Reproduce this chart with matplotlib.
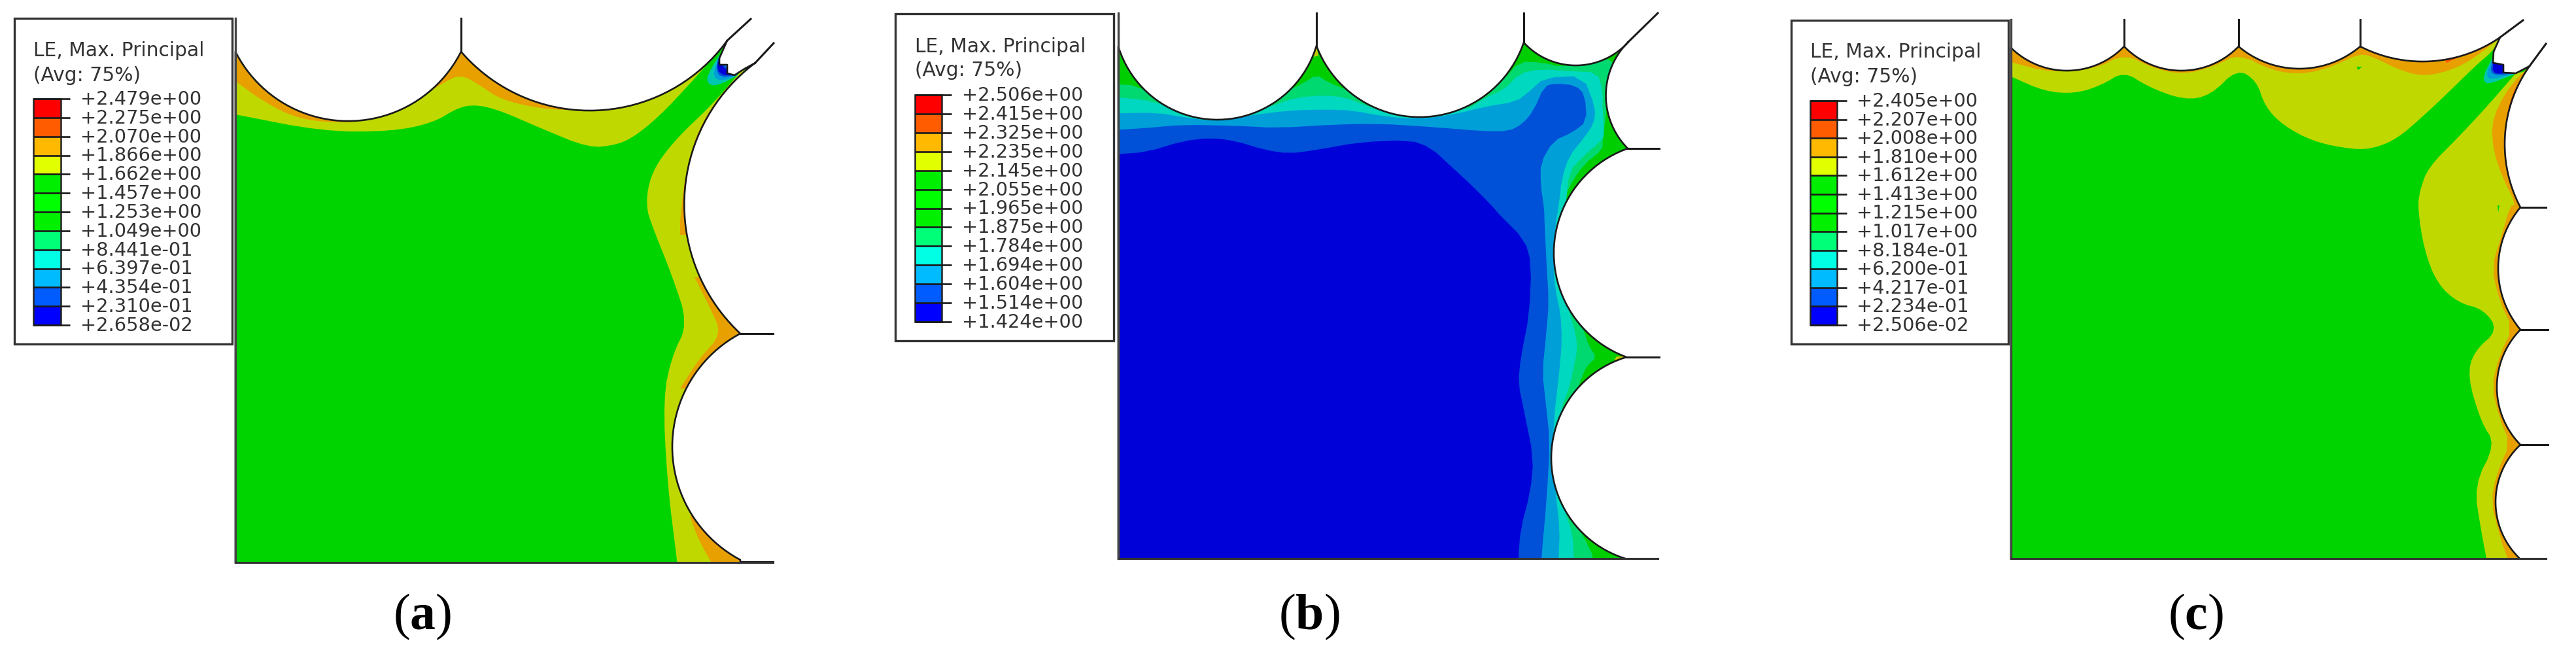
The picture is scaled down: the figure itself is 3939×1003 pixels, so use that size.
import matplotlib
matplotlib.use("Agg")
import numpy as np
import matplotlib.pyplot as plt
from matplotlib.patches import Polygon, Rectangle

plt.rcParams["font.family"] = ["DejaVu Sans"]
plt.rcParams["mathtext.fontset"] = "custom"
plt.rcParams["mathtext.rm"] = "Liberation Serif"
plt.rcParams["mathtext.bf"] = "Liberation Serif:bold"

W, H = 3939, 1004

LEGEND_TITLE = ["LE, Max. Principal", "(Avg: 75%)"]
LABELS_A = ["+2.479e+00", "+2.275e+00", "+2.070e+00", "+1.866e+00", "+1.662e+00", "+1.457e+00", "+1.253e+00",
            "+1.049e+00", "+8.441e-01", "+6.397e-01", "+4.354e-01", "+2.310e-01", "+2.658e-02"]
LABELS_B = ["+2.506e+00", "+2.415e+00", "+2.325e+00", "+2.235e+00", "+2.145e+00", "+2.055e+00", "+1.965e+00",
            "+1.875e+00", "+1.784e+00", "+1.694e+00", "+1.604e+00", "+1.514e+00", "+1.424e+00"]
LABELS_C = ["+2.405e+00", "+2.207e+00", "+2.008e+00", "+1.810e+00", "+1.612e+00", "+1.413e+00", "+1.215e+00",
            "+1.017e+00", "+8.184e-01", "+6.200e-01", "+4.217e-01", "+2.234e-01", "+2.506e-02"]
BAR_COLORS = ["#FF0000", "#FF5C00", "#FFB900", "#E2FF00", "#00EE00", "#00FF00", "#00F000",
              "#00FF78", "#00FFE4", "#00BBFF", "#005CFF", "#0000FF"]

GREEN = "#00D400"
OLIVE = "#BFD900"
ORANGE = "#E8A000"
REDDISH = "#FF5000"
B_GREEN = "#00CE00"
B_LIGHT = "#00D870"
B_TEAL = "#00D8C0"
B_SKY = "#009FD8"
B_BLUE = "#0050D8"
B_DARK = "#0000D8"

# outlines (pixels of the full picture)
A_ARCS_TOP = [((360, 80), (526, 186), (705, 80)), ((705, 80), (869, 168), (1112, 63))]
A_NOTCH = [(1100, 90), (1100, 100), (1112, 100), (1112, 113), (1123, 116), (1137, 107)]
A_ARCS_RIGHT = [((1155, 97), (1047, 333), (1132, 511)), ((1132, 511), (1028, 688), (1132, 857))]
A_SPIKES = [((705, 80), (705, 29)), ((1112, 63), (1148, 30)), ((1155, 97), (1183, 67)),
            ((1132, 511), (1182, 511)), ((1132, 860), (1182, 860))]

B_ARCS = [((1710, 72), (1860, 184), (2013, 71)), ((2013, 71), (2167, 180), (2330, 66)),
          ((2330, 66), (2407, 101), (2490, 65)), ((2490, 65), (2456, 157), (2489, 228)),
          ((2489, 228), (2376, 392), (2487, 547)), ((2487, 547), (2372, 701), (2485, 855))]
B_SPIKES = [((2013, 71), (2013, 21)), ((2330, 66), (2330, 21)), ((2490, 65), (2535, 21)),
            ((2489, 228), (2537, 228)), ((2487, 547), (2537, 547)), ((2485, 855), (2535, 855))]

C_ARCS_TOP = [((3075, 74), (3162, 109), (3248, 72)), ((3248, 72), (3336, 109), (3423, 72)),
              ((3423, 72), (3514, 106), (3609, 72)), ((3609, 72), (3700, 95), (3823, 58))]
C_NOTCH = [(3813, 80), (3812, 97), (3828, 100), (3828, 112), (3847, 113)]
C_ARCS_RIGHT = [((3868, 102), (3830, 222), (3854, 318)), ((3854, 318), (3820, 410), (3854, 505)),
                ((3854, 505), (3818, 592), (3854, 681)), ((3854, 681), (3816, 768), (3852, 854))]
C_SPIKES = [((3248, 72), (3248, 31)), ((3423, 72), (3423, 31)), ((3609, 72), (3609, 31)), ((3823, 58), (3858, 32)),
            ((3868, 102), (3893, 68)), ((3854, 318), (3893, 318)), ((3854, 505), (3896, 505)),
            ((3854, 681), (3896, 681)), ((3852, 855), (3893, 855))]

# contour edges of panel a
A_OLIVE_TOP = [(360, 176), (494, 202), (598, 202), (662, 189), (701, 165), (729, 161), (765, 170), (829, 198),
               (900, 227), (940, 223), (967, 212), (1007, 180), (1057, 127), (1100, 78), (1112, 60)]
A_OLIVE_RIGHT = [(1133, 110), (1087, 163), (1040, 207), (1007, 247), (992, 280), (988, 317), (997, 346), (1028, 423),
                 (1052, 496), (1028, 544), (1014, 608), (1020, 736), (1036, 865)]
A_ORANGE_TOP = [(360, 125), (398, 153), (446, 179), (494, 188), (558, 188), (638, 154), (680, 126), (705, 115),
                (735, 132), (765, 153), (829, 168), (900, 170), (977, 157), (1017, 143), (1047, 123), (1073, 100),
                (1103, 73), (1112, 60)]
A_ORANGE_RIGHT = [(1150, 107), (1113, 133), (1080, 177), (1060, 220), (1048, 270), (1044, 300), (1040, 340)]
A_ORANGE_CUSP = [(1062, 425), (1085, 470), (1104, 512), (1070, 548), (1040, 595)]
A_ORANGE_FOOT = [(1055, 790), (1068, 826), (1090, 865)]
A_RED_TOP = [(1060, 108), (1080, 93), (1100, 78), (1112, 60)]
A_RED_RIGHT = [(1148, 105), (1120, 135), (1095, 170), (1078, 205), (1062, 250), (1052, 290)]
A_BLOTCH = [[(1100, 85), (1088, 105), (1080, 122), (1086, 132), (1102, 130), (1128, 116)],
            [(1100, 88), (1091, 110), (1094, 122), (1108, 124), (1128, 116)],
            [(1098, 90), (1095, 108), (1102, 119), (1122, 117)],
            [(1098, 95), (1097, 108), (1106, 116), (1120, 116)]]

# contour edges of panel b, top crop then right crop
B_L2_TOP = [(18, 390), (70, 395), (150, 470), (300, 500), (450, 470), (495, 420), (540, 385), (578, 345), (610, 380),
            (670, 420), (800, 500), (1000, 500), (1050, 435), (1105, 370), (1150, 285), (1215, 290), (1270, 310),
            (1340, 290), (1420, 270), (1400, 360), (1395, 520), (1385, 640), (1385, 690), (1330, 760), (1290, 860),
            (1265, 960)]
B_L2_RIGHT = [(440, 560), (510, 690), (540, 760), (575, 797), (530, 825), (505, 870), (490, 900), (420, 1000),
              (400, 1200), (460, 1360), (510, 1420), (565, 1503), (565, 1600)]
B_L3_TOP = [(18, 450), (90, 460), (135, 480), (300, 520), (400, 515), (450, 490), (520, 450), (600, 440), (660, 450),
            (720, 490), (800, 530), (1000, 510), (1050, 455), (1110, 410), (1150, 340), (1210, 320), (1300, 330),
            (1370, 335), (1385, 420), (1385, 520), (1390, 620), (1380, 650), (1330, 720), (1290, 790), (1280, 960)]
B_L3_RIGHT = [(420, 560), (450, 640), (480, 720), (485, 770), (470, 830), (450, 900), (410, 980), (380, 1150),
              (430, 1340), (465, 1420), (470, 1503), (470, 1600)]
B_L4_TOP = [(18, 522), (130, 520), (200, 540), (290, 560), (400, 530), (500, 510), (600, 505), (680, 510), (760, 535),
            (860, 550), (960, 530), (1060, 490), (1140, 470), (1180, 420), (1220, 360), (1330, 350), (1365, 500),
            (1360, 570), (1330, 640), (1290, 720), (1270, 820), (1260, 960)]
B_L4_RIGHT = [(385, 330), (375, 480), (385, 560), (410, 650), (415, 740), (405, 830), (395, 900), (380, 1000),
              (370, 1150), (390, 1300), (405, 1400), (400, 1503), (400, 1600)]
B_L5_TOP = [(18, 598), (100, 590), (200, 575), (350, 580), (470, 590), (620, 575), (750, 570), (900, 585), (1050, 605),
            (1120, 605), (1160, 570), (1190, 510), (1220, 400), (1250, 385), (1310, 395), (1335, 440), (1340, 560),
            (1300, 610), (1245, 650), (1210, 750), (1210, 850), (1220, 960)]
B_L5_RIGHT = [(335, 320), (345, 480), (355, 600), (345, 700), (325, 850), (340, 950), (360, 1090), (345, 1300),
              (320, 1503), (320, 1600)]
B_L6_TOP = [(18, 710), (100, 700), (200, 650), (280, 635), (350, 650), (430, 690), (500, 708), (580, 690), (700, 655),
            (840, 645), (900, 680), (960, 770), (1020, 860), (1080, 960)]
B_L6_RIGHT = [(120, 290), (245, 385), (275, 470), (265, 650), (225, 800), (215, 890), (240, 980), (285, 1150),
              (270, 1270), (225, 1400), (215, 1503), (215, 1600)]
B_TIPS = [[(2009, 88), (2013, 72), (2016, 86)], [(2468, 552), (2488, 546), (2472, 546)]]

# contour edges of panel c
C_OLIVE_TOP = [(3075, 118), (3127, 141), (3174, 144), (3214, 131), (3248, 110), (3285, 134), (3340, 154), (3380, 147),
               (3421, 106), (3451, 125), (3463, 163), (3490, 192), (3538, 218), (3600, 230), (3633, 227), (3667, 212),
               (3707, 177), (3743, 143), (3787, 100), (3813, 78), (3823, 58)]
C_OLIVE_RIGHT = [(3847, 113), (3800, 167), (3757, 213), (3713, 257), (3700, 293), (3697, 320), (3707, 384), (3727, 435),
                 (3759, 464), (3798, 474), (3820, 506), (3783, 538), (3773, 576), (3794, 647), (3816, 680), (3783, 743),
                 (3794, 813), (3804, 865)]
C_ORANGE_TOP = [(3075, 96), (3135, 112), (3206, 106), (3248, 83), (3293, 106), (3340, 115), (3387, 102), (3423, 83),
                (3474, 109), (3522, 115), (3569, 102), (3609, 82), (3633, 90), (3667, 107), (3700, 117), (3733, 113),
                (3767, 100), (3800, 77), (3823, 58)]
C_ORANGE_RIGHT = [(3867, 103), (3840, 130), (3820, 163), (3810, 193), (3813, 233), (3827, 273), (3847, 313), (3838, 317),
                  (3826, 358), (3810, 410), (3822, 461), (3842, 503), (3822, 544), (3810, 592), (3822, 640), (3838, 679),
                  (3818, 724), (3809, 768), (3822, 820), (3838, 865)]
C_RED_TOP = [(3740, 97), (3773, 83), (3823, 58)]
C_RED_RIGHT = [(3867, 103), (3843, 140), (3833, 177), (3832, 195)]
C_BLOTCH = [[(3812, 88), (3797, 117), (3800, 129), (3813, 127), (3848, 113)],
            [(3811, 92), (3802, 113), (3806, 122), (3816, 121), (3848, 113)],
            [(3811, 95), (3808, 112), (3820, 116), (3845, 113)],
            [(3812, 97), (3812, 113), (3830, 114), (3829, 99)]]
C_SPECKS = [[(3603, 103), (3612, 103), (3606, 108)], [(3819, 315), (3822, 315), (3820, 326)]]


def crop(pts, x0, y0, sx, sy):
    return [(x0 + x / sx, y0 + y / sy) for x, y in pts]


def top_crop(pts):
    return crop(pts, 1700, 0, 1.845, 3)


def right_crop(pts):
    return crop(pts, 2250, 200, 3, 2.294)


def arc3(p0, pm, p1, n=48):
    """Circular arc through three points."""
    (ax_, ay), (bx, by), (cx, cy) = p0, pm, p1
    d = 2 * (ax_ * (by - cy) + bx * (cy - ay) + cx * (ay - by))
    ux = ((ax_**2 + ay**2) * (by - cy) + (bx**2 + by**2) * (cy - ay) + (cx**2 + cy**2) * (ay - by)) / d
    uy = ((ax_**2 + ay**2) * (cx - bx) + (bx**2 + by**2) * (ax_ - cx) + (cx**2 + cy**2) * (bx - ax_)) / d
    a0, am, a1 = [np.arctan2(p[1] - uy, p[0] - ux) for p in (p0, pm, p1)]
    am = a0 + (am - a0 + np.pi) % (2 * np.pi) - np.pi
    a1 = am + (a1 - am + np.pi) % (2 * np.pi) - np.pi
    r = np.hypot(ax_ - ux, ay - uy)
    tt = np.concatenate([np.linspace(a0, am, n // 2), np.linspace(am, a1, n // 2)[1:]])
    return list(zip(ux + r * np.cos(tt), uy + r * np.sin(tt)))


def smooth(pts, rounds=2):
    pts = np.array(pts, dtype=float)
    for _ in range(rounds):
        q = 0.75 * pts[:-1] + 0.25 * pts[1:]
        r = 0.25 * pts[:-1] + 0.75 * pts[1:]
        mid = np.empty((2 * len(q), 2))
        mid[0::2] = q
        mid[1::2] = r
        pts = np.vstack([pts[0], mid, pts[-1]])
    return [tuple(p) for p in pts]


def chain(arcs):
    out = []
    for a in arcs:
        out += arc3(*a)
    return out


fig = plt.figure(figsize=(W / 100, H / 100), dpi=100)
ax = fig.add_axes([0, 0, 1, 1])
ax.set_xlim(0, W)
ax.set_ylim(H, 0)
ax.axis("off")


def plate(outline, color):
    p = Polygon(outline, closed=True, fc=color, ec="none", zorder=2)
    ax.add_patch(p)
    return p


def layer(clip, edge, closing, color, zorder=3, rounds=2):
    pts = smooth(edge, rounds) + list(closing)
    p = Polygon(pts, closed=True, fc=color, ec="none", zorder=zorder)
    ax.add_patch(p)
    p.set_clip_path(clip)


def outline_lines(outline, spikes, left_x, top_y, bottom_y):
    xs, ys = zip(*outline)
    ax.plot(xs, ys, color="#1a1a1a", lw=1.9, zorder=6, solid_joinstyle="round")
    ax.plot([left_x, left_x], [top_y, bottom_y], color="#444444", lw=2.4, zorder=6)
    for a, b in spikes:
        ax.plot([a[0], b[0]], [a[1], b[1]], color="#1a1a1a", lw=2.2, zorder=6)


def legend(box, bar, tick_x, text_x, title_y, labels):
    ax.add_patch(Rectangle((box[0], box[1]), box[2] - box[0], box[3] - box[1], fc="white", ec="#333333", lw=2.4, zorder=7))
    ax.text(bar[0], title_y[0], LEGEND_TITLE[0], fontsize=21.4, color="#333333", va="center", ha="left", zorder=8)
    ax.text(bar[0], title_y[1], LEGEND_TITLE[1], fontsize=21.4, color="#333333", va="center", ha="left", zorder=8)
    edges = np.linspace(bar[1], bar[3], len(labels))
    for i, col in enumerate(BAR_COLORS):
        ax.add_patch(Rectangle((bar[0], edges[i]), bar[2] - bar[0], edges[i + 1] - edges[i], fc=col, ec="none", zorder=8))
    ax.add_patch(Rectangle((bar[0], bar[1]), bar[2] - bar[0], bar[3] - bar[1], fc="none", ec="#222222", lw=1.8, zorder=9))
    for y, lab in zip(edges, labels):
        ax.plot([bar[0], tick_x], [y, y], color="#1a1a1a", lw=1.9, zorder=9, solid_capstyle="butt")
        ax.text(text_x, y, lab, fontsize=20.8, color="#333333", va="center", ha="left", zorder=9)


def caption(x, letter):
    ax.text(x, 943, "($\\mathbf{%s}$)" % letter, fontsize=56, family="Liberation Serif", color="black",
            ha="center", va="center", zorder=9)


# panel a
outline_a = [(360, 861), (360, 80)] + chain(A_ARCS_TOP) + A_NOTCH + chain(A_ARCS_RIGHT) + [(1132, 861)]
clip = plate(outline_a + [(1132, 861)], GREEN)
layer(clip, A_OLIVE_TOP, [(1112, 0), (340, 0), (340, 176)], OLIVE)
layer(clip, A_OLIVE_RIGHT, [(1200, 870), (1200, 90)], OLIVE)
layer(clip, A_ORANGE_TOP, [(1112, 0), (340, 0), (340, 125)], ORANGE, 4)
layer(clip, A_ORANGE_RIGHT, [(1040, 360), (1200, 360), (1200, 100)], ORANGE, 4)
layer(clip, A_ORANGE_CUSP, [(1200, 595), (1200, 425)], ORANGE, 4)
layer(clip, A_ORANGE_FOOT, [(1200, 870), (1200, 790)], ORANGE, 4)
layer(clip, A_RED_TOP, [(1112, 0), (1040, 0)], REDDISH, 5)
layer(clip, A_RED_RIGHT, [(1200, 290), (1200, 100)], REDDISH, 5)
for pts, col in zip(A_BLOTCH, ["#00C8B0", "#009FD8", "#0050D8", "#0000D8"]):
    layer(clip, pts, [], col, 5, 1)
outline_lines(outline_a, A_SPIKES, 360, 29, 861)
ax.plot([360, 1182], [861, 861], color="#333333", lw=2.2, zorder=6)
legend((22, 29, 355, 527), (51, 152, 93, 498), 107, 123, (77, 115), LABELS_A)
caption(646, "a")

# panel b
outline_b = [(1710, 855), (1710, 72)] + chain(B_ARCS)
clip = plate(outline_b, B_GREEN)
for top, right, col, z in [(B_L2_TOP, B_L2_RIGHT, B_LIGHT, 3), (B_L3_TOP, B_L3_RIGHT, B_TEAL, 4),
                           (B_L4_TOP, B_L4_RIGHT, B_SKY, 5), (B_L5_TOP, B_L5_RIGHT, B_BLUE, 5.1),
                           (B_L6_TOP, B_L6_RIGHT, B_DARK, 5.2)]:
    edge = top_crop(top) + right_crop(right)
    layer(clip, edge, [(1690, edge[-1][1]), (1690, edge[0][1])], col, z, 1)
for pts in B_TIPS:
    layer(clip, pts, [], "#C8C800", 5.3, 1)
outline_lines(outline_b, B_SPIKES, 1710, 21, 855)
ax.plot([1710, 2535], [855, 855], color="#333333", lw=2.2, zorder=6)
legend((1369, 22, 1703, 522), (1399, 146, 1440, 493), 1455, 1471, (71, 108), LABELS_B)
caption(2002, "b")

# panel c
outline_c = [(3075, 855), (3075, 74)] + chain(C_ARCS_TOP) + C_NOTCH + chain(C_ARCS_RIGHT) + [(3852, 855)]
clip = plate(outline_c, GREEN)
layer(clip, C_OLIVE_TOP, [(3823, 0), (3055, 0), (3055, 118)], OLIVE)
layer(clip, C_OLIVE_RIGHT, [(3920, 870), (3920, 100)], OLIVE)
layer(clip, C_ORANGE_TOP, [(3823, 0), (3055, 0), (3055, 96)], ORANGE, 4)
layer(clip, C_ORANGE_RIGHT, [(3920, 870), (3920, 100)], ORANGE, 4, 1)
layer(clip, C_RED_TOP, [(3823, 0), (3740, 0)], REDDISH, 5)
layer(clip, C_RED_RIGHT, [(3920, 195), (3920, 100)], REDDISH, 5)
for pts, col in zip(C_BLOTCH, ["#00C8B0", "#009FD8", "#0050D8", "#0000D8"]):
    layer(clip, pts, [], col, 5, 1)
for pts in C_SPECKS:
    layer(clip, pts, [], GREEN, 5, 0)
outline_lines(outline_c, C_SPIKES, 3075, 31, 855)
ax.plot([3075, 3893], [855, 855], color="#333333", lw=2.2, zorder=6)
legend((2739, 32, 3071, 527), (2768, 155, 2809, 498), 2824, 2839, (80, 118), LABELS_C)
caption(3357, "c")

fig.savefig("out.png", dpi=100)
